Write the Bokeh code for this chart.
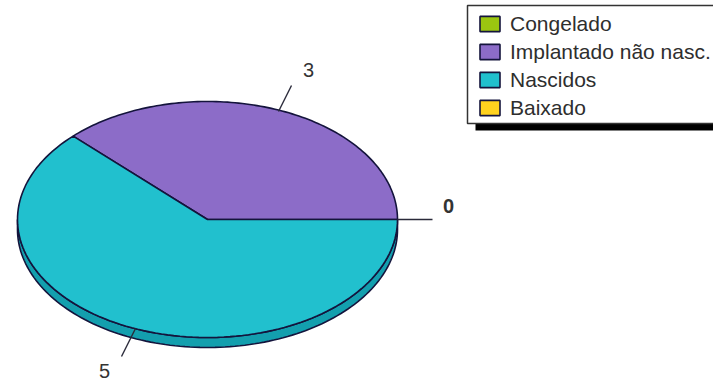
import numpy as np
from bokeh.embed import file_html
from bokeh.resources import INLINE
from bokeh.plotting import figure
from bokeh.models import Legend, LegendItem, Range1d
from bokeh.core.properties import value

categories = ["Congelado", "Implantado não nasc.", "Nascidos", "Baixado"]
values = [0, 3, 5, 0]
colors = ["#9BC610", "#8C6CC8", "#21C0CE", "#FFD21E"]
side_color = "#139FAE"
edge = "#14143C"
label_text = ["0", "3", "5"]

W, H = 713, 384
p = figure(width=W, height=H, output_backend="svg", toolbar_location=None,
           x_range=Range1d(0, W), y_range=Range1d(H, 0),
           min_border=0, outline_line_color=None, x_axis_location=None, y_axis_location=None)
p.grid.visible = False
p.background_fill_color = "white"

cx, cy, rx, ry, depth = 207, 219, 190, 118, 10
def pt(a, r=1.0):
    return cx + rx * r * np.cos(a), cy - ry * r * np.sin(a)

# rim of the pie, lower half
a = np.linspace(np.pi, 2 * np.pi, 120)
rim_x, rim_y = pt(a)
p.patch(np.r_[rim_x, rim_x[::-1]], np.r_[rim_y, rim_y[::-1] + depth],
        fill_color=side_color, line_color=edge, line_width=1.6)

total = sum(values)
start = 0.0
renderers = []
for cat, v, c in zip(categories, values, colors):
    end = start + v / total * 2 * np.pi
    if v:
        t = np.linspace(start, end, 120)
        ex, ey = pt(t)
        xs, ys = np.r_[cx, ex, cx], np.r_[cy, ey, cy]
    else:
        xs, ys = [cx], [cy]
    r = p.patch(xs, ys, fill_color=c, line_color=edge, line_width=1.6)
    renderers.append(r)
    start = end

# leader lines and value labels
leaders = [
    (397, 219, 432, 219, 448, 205, "bold"),
    (278, 111, 291, 85, 308, 69, "normal"),
    (135, 328, 121, 356, 104, 370, "normal"),
]
for (x0, y0, x1, y1, lx, ly, style), txt in zip(leaders, label_text):
    p.line([x0, x1], [y0, y1], line_color="#2A2A3A", line_width=1.4)
    p.text([lx], [ly], text=[txt], text_font=value("Liberation Sans"), text_font_size="20px",
           text_font_style=style, text_color="#333333", text_align="center", text_baseline="middle")

# legend box and shadow
p.quad(left=[475], right=[720], top=[123], bottom=[130], fill_color="black", line_color=None)
p.quad(left=[467], right=[720], top=[5], bottom=[123], fill_color="white",
       line_color="#333333", line_width=1.5)

legend = Legend(items=[LegendItem(label=c, renderers=[r]) for c, r in zip(categories, renderers)],
                location=(477, H - 120), orientation="vertical",
                label_text_font="Liberation Sans", label_text_font_size="21px", label_text_color="#2E2E2E",
                glyph_width=25, glyph_height=19, label_standoff=8, spacing=3,
                padding=0, margin=0, label_height=25,
                border_line_color=None, background_fill_alpha=0)
p.add_layout(legend, "center")

open("out.html", "w").write(file_html(p, INLINE))
